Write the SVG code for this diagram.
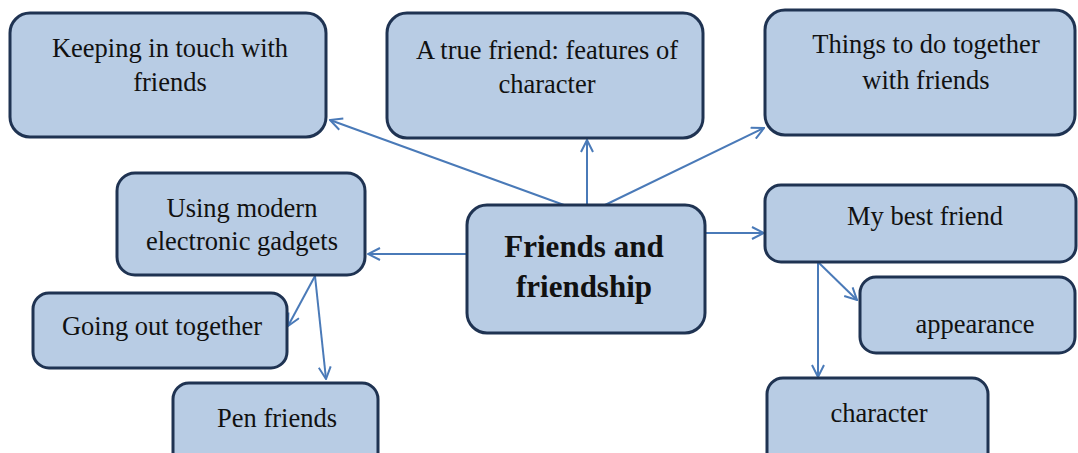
<svg xmlns="http://www.w3.org/2000/svg" width="1078" height="453" viewBox="0 0 1078 453">
<style>
.box{fill:#b8cce4;stroke:#1f3352;stroke-width:3}
.t{font-family:"Liberation Serif","Times New Roman",serif;font-size:26.5px;fill:#111;text-anchor:middle}
.b{font-weight:bold;font-size:31px}
.c{fill:none;stroke:#4a7ab8;stroke-width:2}
</style>
<defs>
<marker id="ar" viewBox="0 0 14 14" refX="13" refY="7" markerWidth="14" markerHeight="14" markerUnits="userSpaceOnUse" orient="auto">
<path d="M1,1 L13,7 L1,13" fill="none" stroke="#4a7ab8" stroke-width="2"/>
</marker>
</defs>
<rect width="1078" height="453" fill="#fff"/>
<g id="connectors">
<line class="c" x1="564" y1="205" x2="330" y2="120" marker-end="url(#ar)"/>
<line class="c" x1="587" y1="205" x2="587" y2="140" marker-end="url(#ar)"/>
<line class="c" x1="605" y1="205" x2="764" y2="128" marker-end="url(#ar)"/>
<line class="c" x1="467" y1="254" x2="368" y2="254" marker-end="url(#ar)"/>
<line class="c" x1="705" y1="233" x2="764" y2="233" marker-end="url(#ar)"/>
<line class="c" x1="315" y1="276" x2="288" y2="326" marker-end="url(#ar)"/>
<line class="c" x1="315" y1="276" x2="326" y2="379" marker-end="url(#ar)"/>
<line class="c" x1="818" y1="262" x2="818" y2="377" marker-end="url(#ar)"/>
<line class="c" x1="818" y1="262" x2="857" y2="300" marker-end="url(#ar)"/>
</g>
<g id="keeping">
<rect class="box" x="10" y="13" width="316" height="124" rx="20"/>
<text class="t" x="170" y="57">Keeping in touch with</text>
<text class="t" x="170" y="91">friends</text>
</g>
<g id="truefriend">
<rect class="box" x="387" y="13" width="316" height="125" rx="20"/>
<text class="t" x="547" y="59">A true friend: features of</text>
<text class="t" x="547" y="93">character</text>
</g>
<g id="things">
<rect class="box" x="765" y="10" width="310" height="125" rx="20"/>
<text class="t" x="926" y="53">Things to do together</text>
<text class="t" x="926" y="89">with friends</text>
</g>
<g id="using">
<rect class="box" x="117" y="173" width="248" height="102" rx="18"/>
<text class="t" x="242" y="217">Using modern</text>
<text class="t" x="242" y="250">electronic gadgets</text>
</g>
<g id="center">
<rect class="box" x="467" y="205" width="238" height="128" rx="20"/>
<text class="t b" x="584" y="257">Friends and</text>
<text class="t b" x="584" y="297">friendship</text>
</g>
<g id="bestfriend">
<rect class="box" x="765" y="185" width="311" height="77" rx="16"/>
<text class="t" x="925" y="225">My best friend</text>
</g>
<g id="going">
<rect class="box" x="33" y="293" width="254" height="75" rx="16"/>
<text class="t" x="162" y="335">Going out together</text>
</g>
<g id="appearance">
<rect class="box" x="860" y="277" width="215" height="76" rx="16"/>
<text class="t" x="975" y="333">appearance</text>
</g>
<g id="pen">
<rect class="box" x="173" y="383" width="205" height="90" rx="16"/>
<text class="t" x="277" y="427">Pen friends</text>
</g>
<g id="character">
<rect class="box" x="767" y="378" width="221" height="95" rx="16"/>
<text class="t" x="879" y="422">character</text>
</g>
</svg>
